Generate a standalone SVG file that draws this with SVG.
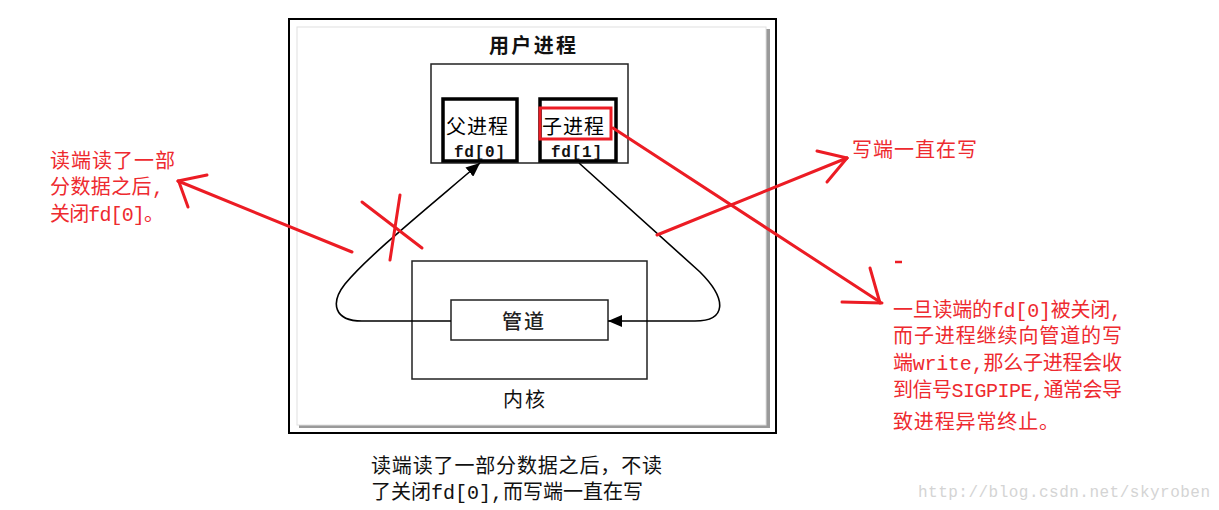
<svg xmlns="http://www.w3.org/2000/svg" width="1219" height="510" viewBox="0 0 1219 510">
<style>
.cjk{font-family:"Noto Sans CJK SC","Noto Sans",sans-serif;}
.mono{font-family:"Liberation Mono","Noto Sans CJK SC",monospace;}
.red{fill:#ee2a2f;font-size:20px;}
.blk{fill:#111;font-size:20px;}
.rl{stroke:#ec1c24;stroke-width:3;fill:none;stroke-linecap:round;}
.con{stroke:#000;stroke-width:1.6;fill:none;}
.pbox{fill:#fff;stroke:#000;stroke-width:3.5;}
.thin{fill:#fff;stroke:#222;stroke-width:1.5;}
</style>
<defs>
<marker id="ah" markerUnits="userSpaceOnUse" markerWidth="14" markerHeight="12" refX="14" refY="6" orient="auto">
<path d="M0,0 L14,6 L0,12 z" fill="#000"/>
</marker>
</defs>
<rect width="1219" height="510" fill="#fff"/>
<g id="frame">
<rect x="289" y="19" width="487" height="414" fill="#fff" stroke="#000" stroke-width="2"/>
<rect x="299" y="29" width="471" height="399" fill="#9a9a9a"/>
<rect x="297" y="27" width="469" height="398" fill="#fff" stroke="#e0e0e0" stroke-width="1"/>
<text class="cjk" x="489" y="53" font-size="20" font-weight="bold" fill="#111" textLength="87" lengthAdjust="spacing">用户进程</text>
</g>
<g id="user-box">
<rect class="thin" x="431" y="64" width="197" height="99"/>
</g>
<g id="parent">
<rect class="pbox" x="443" y="99" width="74" height="62"/>
<text class="cjk" x="446" y="134" font-size="20" fill="#000" textLength="62" lengthAdjust="spacing">父进程</text>
<text class="mono" x="454" y="157" font-size="16" font-weight="bold" fill="#111" textLength="51" lengthAdjust="spacing">fd[0]</text>
</g>
<g id="child">
<rect class="pbox" x="540" y="99" width="76" height="62"/>
<rect x="540" y="108" width="71" height="31" fill="none" stroke="#ec1c24" stroke-width="3"/>
<text class="cjk" x="542" y="134" font-size="20" fill="#000" textLength="62" lengthAdjust="spacing">子进程</text>
<text class="mono" x="551" y="157" font-size="16" font-weight="bold" fill="#111" textLength="51" lengthAdjust="spacing">fd[1]</text>
</g>
<g id="kernel">
<rect class="thin" x="412" y="261" width="235" height="118"/>
<text class="cjk" x="503" y="407" font-size="20" fill="#111" textLength="42" lengthAdjust="spacing">内核</text>
</g>
<g id="pipe">
<rect class="thin" x="451" y="300" width="157" height="40"/>
<text class="cjk" x="502" y="329" font-size="20" font-weight="500" fill="#222" textLength="42" lengthAdjust="spacing">管道</text>
</g>
<g id="connectors">
<path class="con" d="M451,321 L362,321 C334,321 330,303 345,284 C368,256 425,210 480,163" marker-end="url(#ah)"/>
<path class="con" d="M579,163 L700,272 C728,300 726,321 695,321 L608,321" marker-end="url(#ah)"/>
</g>
<g id="annotations">
<line class="rl" x1="362" y1="202" x2="422" y2="248"/>
<line class="rl" x1="400" y1="195" x2="390" y2="260"/>
<line class="rl" x1="352" y1="252" x2="178" y2="181"/>
<line class="rl" x1="207" y1="175" x2="178" y2="181"/>
<line class="rl" x1="188" y1="207" x2="179" y2="182"/>
<line class="rl" x1="613" y1="128" x2="880" y2="302"/>
<line class="rl" x1="870" y1="268" x2="880" y2="303"/>
<line class="rl" x1="842" y1="302" x2="882" y2="303"/>
<line class="rl" x1="657" y1="235" x2="847" y2="158"/>
<line class="rl" x1="817" y1="151" x2="847" y2="158"/>
<line class="rl" x1="827" y1="182" x2="847" y2="158"/>
<line x1="895" y1="262" x2="902" y2="262" stroke="#ec1c24" stroke-width="2.5"/>
</g>
<g id="note-left">
<text class="mono red" x="50" y="168" textLength="125" lengthAdjust="spacing">读端读了一部</text>
<text class="mono red" x="50" y="194" textLength="114" lengthAdjust="spacing">分数据之后,</text>
<text class="mono red" x="50" y="221" textLength="114" lengthAdjust="spacing">关闭fd[0]。</text>
</g>
<g id="note-write">
<text class="mono red" x="852" y="157" textLength="125" lengthAdjust="spacing">写端一直在写</text>
</g>
<g id="note-right">
<text class="mono red" x="893" y="317" textLength="229" lengthAdjust="spacing">一旦读端的fd[0]被关闭,</text>
<text class="mono red" x="893" y="343" textLength="229" lengthAdjust="spacing">而子进程继续向管道的写</text>
<text class="mono red" x="893" y="370" textLength="229" lengthAdjust="spacing">端write,那么子进程会收</text>
<text class="mono red" x="893" y="397" textLength="229" lengthAdjust="spacing">到信号SIGPIPE,通常会导</text>
<text class="mono red" x="893" y="429" textLength="166" lengthAdjust="spacing">致进程异常终止。</text>
</g>
<g id="caption">
<text class="mono blk" x="371" y="473" textLength="291" lengthAdjust="spacing">读端读了一部分数据之后，不读</text>
<text class="mono blk" x="371" y="499" textLength="272" lengthAdjust="spacing">了关闭fd[0],而写端一直在写</text>
</g>
<g id="watermark">
<text x="918" y="497" font-family="Liberation Mono, monospace" font-size="16" fill="#d4d4d4" textLength="292" lengthAdjust="spacing">http://blog.csdn.net/skyroben</text>
</g>
</svg>
